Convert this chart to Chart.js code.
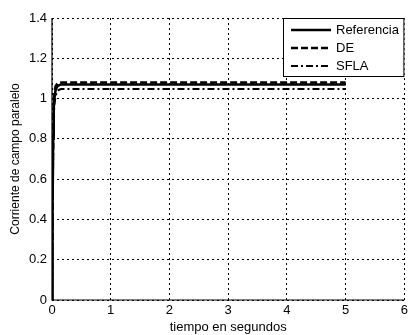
<!DOCTYPE html>
<html><head><meta charset="utf-8">
<script src="https://cdn.jsdelivr.net/npm/chart.js@4"></script>
<style>html,body{margin:0;padding:0;background:#fff}#c{display:block}</style>
</head><body>
<canvas id="c" width="411" height="335"></canvas>
<script>
const time = [0, 0.01, 0.02, 0.03, 0.04, 0.06, 0.08, 0.1, 0.13, 0.16, 0.2, 0.3, 5];
const referencia = [0, 0.45, 0.8, 0.95, 1.0, 1.04, 1.055, 1.063, 1.068, 1.07, 1.07, 1.07, 1.07];
const de = [0, 0.5, 0.85, 0.98, 1.03, 1.06, 1.07, 1.076, 1.078, 1.08, 1.08, 1.08, 1.08];
const sfla = [0, 0.4, 0.75, 0.9, 0.97, 1.01, 1.03, 1.04, 1.045, 1.047, 1.048, 1.048, 1.048];
const xTicks = [0, 1, 2, 3, 4, 5, 6];
const yTicks = [0, 0.2, 0.4, 0.6, 0.8, 1, 1.2, 1.4];
const seriesNames = ['Referencia', 'DE', 'SFLA'];

const pts = arr => time.map((t, i) => ({x: t, y: arr[i]}));
const FONT = 'Liberation Sans, Arial, sans-serif';

const legendPlugin = {
  id: 'boxLegend',
  afterDraw(chart) {
    const ctx = chart.ctx, a = chart.chartArea;
    const x0 = 283, y0 = a.top, w = a.right - x0, h = 59;
    ctx.save();
    ctx.fillStyle = '#fff';
    ctx.fillRect(x0, y0, w, h);
    ctx.strokeStyle = '#000'; ctx.lineWidth = 1; ctx.setLineDash([]);
    ctx.strokeRect(x0 + 0.5, y0 + 0.5, w - 1, h - 1);
    chart.data.datasets.forEach((ds, i) => {
      const yy = y0 + 12 + i * 18;
      ctx.beginPath();
      ctx.setLineDash(ds.borderDash || []);
      ctx.lineWidth = ds.borderWidth;
      ctx.strokeStyle = '#000';
      ctx.moveTo(x0 + 8, yy); ctx.lineTo(x0 + 48, yy); ctx.stroke();
      ctx.setLineDash([]);
      ctx.fillStyle = '#000';
      ctx.font = '13px ' + FONT;
      ctx.textBaseline = 'middle';
      ctx.fillText(ds.label, x0 + 53, yy);
    });
    ctx.restore();
  }
};

const axisLines = {
  id: 'axisLines',
  afterDatasetsDraw(chart) {
    const ctx = chart.ctx, a = chart.chartArea;
    ctx.save();
    ctx.strokeStyle = '#000'; ctx.lineWidth = 1.2; ctx.setLineDash([]);
    ctx.beginPath();
    ctx.moveTo(a.left, a.top); ctx.lineTo(a.left, a.bottom); ctx.lineTo(a.right, a.bottom);
    ctx.stroke();
    ctx.restore();
  }
};

new Chart(document.getElementById('c'), {
  type: 'line',
  data: {
    datasets: [
      {label: seriesNames[0], data: pts(referencia), borderColor: '#000', borderWidth: 2.5, borderDash: [], pointRadius: 0, tension: 0, fill: false},
      {label: seriesNames[1], data: pts(de), borderColor: '#000', borderWidth: 2.5, borderDash: [7, 3], pointRadius: 0, tension: 0, fill: false},
      {label: seriesNames[2], data: pts(sfla), borderColor: '#000', borderWidth: 2, borderDash: [7, 3, 2, 3], pointRadius: 0, tension: 0, fill: false}
    ]
  },
  options: {
    responsive: false,
    animation: false,
    layout: {padding: {top: 18, right: 5, left: 0, bottom: 0}},
    plugins: {legend: {display: false}, tooltip: {enabled: false}},
    scales: {
      x: {
        type: 'linear', min: 0, max: 6,
        afterBuildTicks: s => { s.ticks = xTicks.map(v => ({value: v})); },
        afterFit: s => { s.height = 35; },
        grid: {color: '#000', lineWidth: 1, tickLength: 0, drawTicks: false},
        border: {display: false, dash: [2, 3]},
        ticks: {color: '#000', font: {family: FONT, size: 13}, padding: 3, maxRotation: 0},
        title: {display: true, text: 'tiempo en segundos', color: '#000', font: {family: FONT, size: 13}, padding: {top: 0, bottom: 0}}
      },
      y: {
        type: 'linear', min: 0, max: 1.4,
        afterBuildTicks: s => { s.ticks = yTicks.map(v => ({value: v})); },
        afterFit: s => { s.width = 52; },
        grid: {color: '#000', lineWidth: 1, drawTicks: false},
        border: {display: false, dash: [2, 3]},
        ticks: {color: '#000', font: {family: FONT, size: 13}, padding: 5, callback: v => String(Math.round(v * 10) / 10)},
        title: {display: true, text: 'Corriente de campo paralelo', color: '#000', font: {family: FONT, size: 12}, padding: {top: 8, bottom: 0}}
      }
    }
  },
  plugins: [axisLines, legendPlugin]
});
</script>
</body></html>
